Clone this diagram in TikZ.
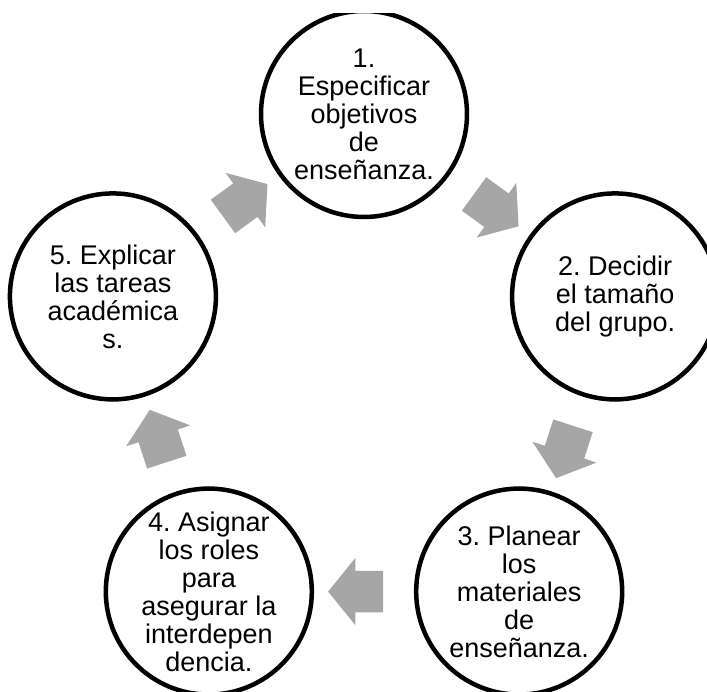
\documentclass[tikz,border=0pt]{standalone}
\usepackage{fontspec}
\setmainfont{Liberation Sans}
\usepackage{tikz}
\usetikzlibrary{shapes.arrows,calc}
\definecolor{flechagris}{RGB}{166,166,166}
\frenchspacing

\begin{document}
\begin{tikzpicture}[
    fase/.style={circle, draw=black, line width=4.5pt, fill=white, minimum size=206pt,
                 inner sep=-16pt, align=center, font=\fontsize{27}{28}\selectfont},
    flecha/.style={single arrow, fill=flechagris, draw=none, minimum height=55pt,
                   minimum width=67pt, single arrow head extend=13pt,
                   single arrow tip angle=102, inner xsep=0pt, inner ysep=20.5pt}
]
\useasboundingbox (-364pt,-314pt) rectangle (343pt,378pt);
\clip (-364pt,-314pt) rectangle (343pt,364pt);

\node[fase] (espec) at (90:264pt) {1.\\Especificar\\objetivos\\de\\enseñanza.};
\node[fase] (decid) at (18:264pt) {2. Decidir\\el tamaño\\del grupo.};
\node[fase] (plan) at (-54:264pt) {3. Planear\\los\\materiales\\de\\enseñanza.};
\node[fase] (asig) at (-126:264pt) {4. Asignar\\los roles\\para\\asegurar la\\interdepen\\dencia.};
\node[fase] (expl) at (162:264pt) {5. Explicar\\las tareas\\académica\\s.};

\node[flecha, rotate=-36] (f12) at ($(espec)!0.5!(decid)$) {};
\node[flecha, rotate=-108] (f23) at ($(decid)!0.5!(plan)$) {};
\node[flecha, rotate=180] (f34) at ($(plan)!0.5!(asig)$) {};
\node[flecha, rotate=108] (f45) at ($(asig)!0.5!(expl)$) {};
\node[flecha, rotate=36] (f51) at ($(expl)!0.5!(espec)$) {};
\end{tikzpicture}
\end{document}
